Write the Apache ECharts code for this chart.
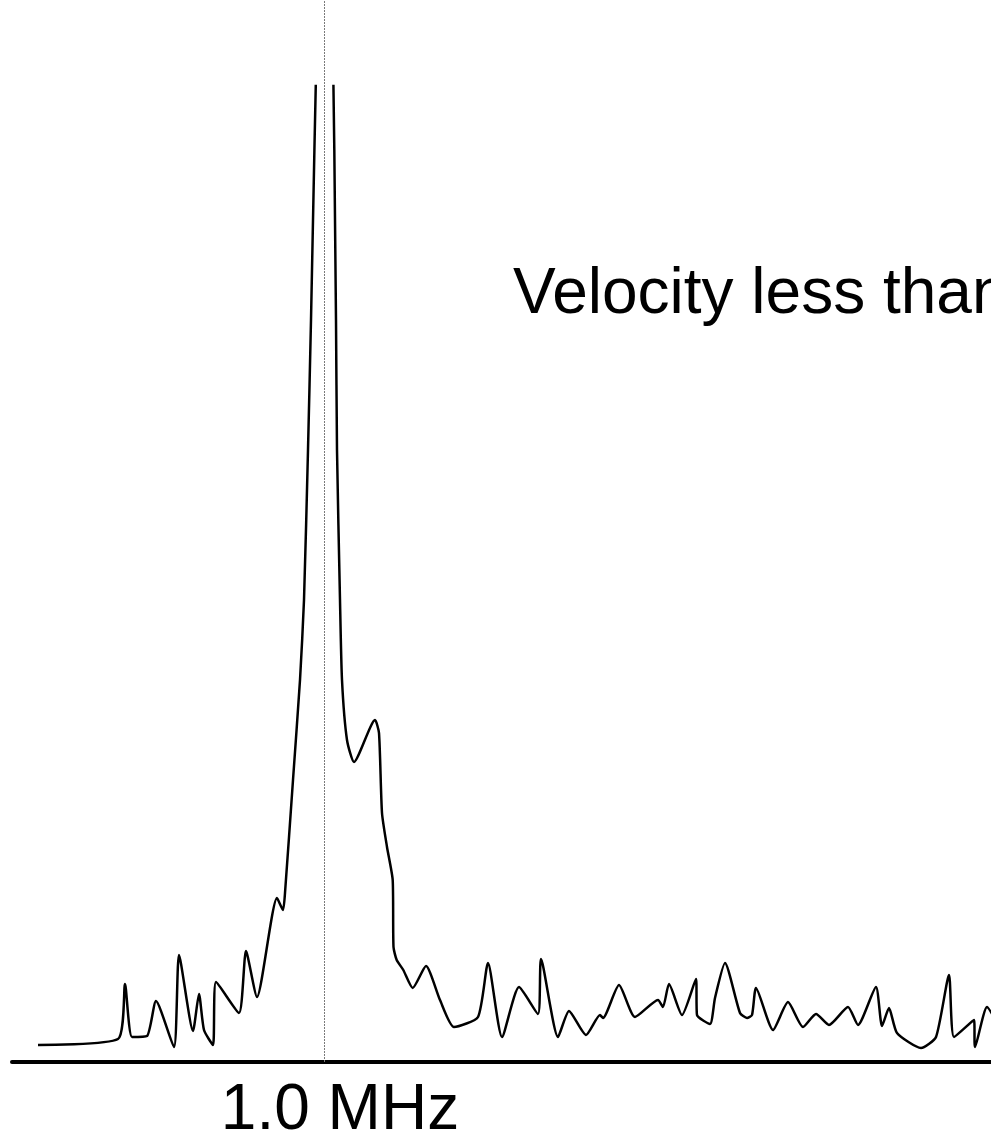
<!DOCTYPE html>
<html>
<head>
<meta charset="utf-8">
<style>
  html, body { margin: 0; padding: 0; background: #fff; }
  #spectrum { width: 991px; height: 1140px; }
</style>
<script src="https://cdn.jsdelivr.net/npm/echarts@6/dist/echarts.min.js"></script>
</head>
<body>
<div id="spectrum"></div>
<script>
// frequency (MHz) of each sample of the trace
const freqs = [
  0.714, 0.794, 0.801, 0.808, 0.823, 0.832, 0.850, 0.855, 0.869, 0.875,
  0.880, 0.889, 0.892, 0.915, 0.922, 0.933, 0.953, 0.959, 0.961, 0.969,
  0.976, 0.980, 0.984, 0.987, 0.994, 1.000, 1.008, 1.012, 1.013, 1.016,
  1.018, 1.023, 1.030, 1.051, 1.055, 1.058, 1.063, 1.0687, 1.0695, 1.0727,
  1.0793, 1.0887, 1.102, 1.116, 1.130, 1.154, 1.164, 1.178, 1.195, 1.214,
  1.217, 1.234, 1.245, 1.262, 1.276, 1.279, 1.295, 1.311, 1.334, 1.339,
  1.345, 1.358, 1.372, 1.373, 1.386, 1.391, 1.401, 1.416, 1.423, 1.428,
  1.432, 1.449, 1.464, 1.479, 1.492, 1.505, 1.524, 1.534, 1.552, 1.558,
  1.565, 1.573, 1.597, 1.612, 1.625, 1.630, 1.650, 1.651, 1.663, 1.674
]
// amplitude (arbitrary units), the main peak runs off the top
const amps = [
  1.7, 2.3, 7.8, 2.5, 2.6, 6.1, 1.5, 10.7, 3.1, 6.8,
  3.2, 1.7, 8.0, 4.9, 11.1, 6.5, 16.4, 15.2, 16.9, 28.2,
  38.2, 46.2, 61.2, 74.2, 108.2, 126.2, 108.2, 74.2, 61.2, 46.2,
  38.2, 32.2, 30.0, 34.2, 32.9, 24.9, 21.5, 18.2, 11.5, 10.2,
  9.2, 7.4, 9.6, 6.2, 3.5, 4.5, 9.9, 2.5, 7.5, 4.8,
  10.3, 2.5, 5.1, 2.7, 4.7, 4.4, 7.7, 4.5, 6.2, 5.5,
  7.8, 4.7, 8.3, 4.7, 3.8, 6.4, 9.9, 4.9, 4.4, 4.7,
  7.4, 3.2, 6.0, 3.5, 4.8, 3.7, 5.5, 3.7, 7.5, 3.6,
  5.4, 2.9, 1.4, 2.5, 8.7, 2.5, 4.2, 1.5, 5.5, 3.7
]
const centerFreq = 1.0
const centerLabel = '1.0 MHz'
const noteText = 'Velocity less than'

const fMin = 0.688
const fMax = 1.667
const ampMax = 97.6

const chart = echarts.init(document.getElementById('spectrum'))
const font = '"Liberation Sans", Arial, Helvetica, sans-serif'

chart.setOption({
  animation: false,
  backgroundColor: '#fff',
  grid: [
    // full height grid: baseline axis + dotted centre line
    { left: 12, right: 0, top: 0, bottom: 78 },
    // trace grid, clipped at the top
    { left: 12, right: 0, top: 86, bottom: 78 }
  ],
  xAxis: [
    {
      type: 'value', gridIndex: 0, min: fMin, max: fMax,
      axisLine: { show: true, lineStyle: { color: '#000', width: 4 } },
      axisTick: { show: false }, axisLabel: { show: false }, splitLine: { show: false }
    },
    {
      type: 'value', gridIndex: 1, min: fMin, max: fMax, show: false
    }
  ],
  yAxis: [
    { type: 'value', gridIndex: 0, min: 0, max: 1, show: false },
    { type: 'value', gridIndex: 1, min: 0, max: ampMax, show: false }
  ],
  series: [
    {
      type: 'line',
      xAxisIndex: 0,
      yAxisIndex: 0,
      data: [],
      markLine: {
        silent: true,
        symbol: 'none',
        label: { show: false },
        lineStyle: { color: '#7a7a7a', width: 1, type: [2, 1] },
        data: [{ xAxis: centerFreq }]
      }
    },
    {
      type: 'line',
      xAxisIndex: 1,
      yAxisIndex: 1,
      data: freqs.map((f, i) => [f, amps[i]]),
      showSymbol: false,
      symbol: 'none',
      smooth: 0.2,
      clip: true,
      lineStyle: { color: '#000', width: 2.5 }
    }
  ],
  graphic: [
    {
      type: 'text',
      style: {
        text: centerLabel, x: 340, y: 1111,
        font: '64px ' + font, fill: '#000',
        textAlign: 'center', textVerticalAlign: 'middle'
      }
    },
    {
      type: 'text',
      style: {
        text: noteText, x: 513, y: 295,
        font: '64px ' + font, fill: '#000',
        textAlign: 'left', textVerticalAlign: 'middle'
      }
    }
  ]
})
</script>
</body>
</html>
